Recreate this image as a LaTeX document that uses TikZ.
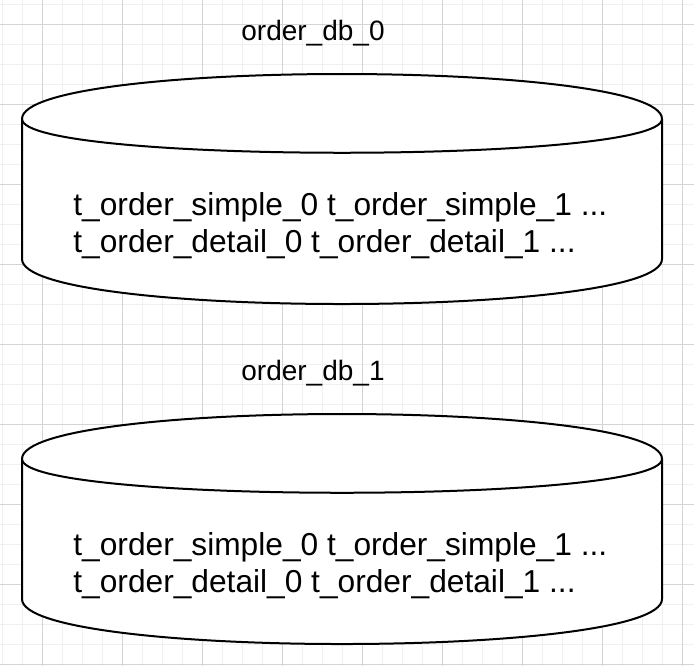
\documentclass[tikz,border=0pt]{standalone}
\usepackage{fontspec}
\setmainfont{Liberation Sans}

\begin{document}
\begin{tikzpicture}[x=0.5pt, y=-0.5pt]

\definecolor{grid-minor}{RGB}{240,240,240}
\definecolor{grid-major}{RGB}{212,212,212}

\tikzset{
  dbline/.style={line width=1pt, line join=round},
  dblabel/.style={anchor=base, inner sep=0pt, font=\fontsize{14}{16.8}\selectfont},
  dbtables/.style={anchor=base west, inner sep=0pt, align=left,
    font=\fontsize{15.85}{18.5}\selectfont}
}

\useasboundingbox (0,0) rectangle (694,666);
\fill[white] (0,0) rectangle (694,666);

% background grid
\foreach \x in {2,22,...,682} {
  \draw[grid-minor, line width=0.5pt] (\x, 0) -- (\x, 666);
}
\foreach \y in {4,24,...,664} {
  \draw[grid-minor, line width=0.5pt] (0, \y) -- (694, \y);
}
\foreach \x in {42,122,...,682} {
  \draw[grid-major, line width=0.5pt] (\x, 0) -- (\x, 666);
}
\foreach \y in {24,104,...,664} {
  \draw[grid-major, line width=0.5pt] (0, \y) -- (694, \y);
}

\foreach \i in {0,1} {
  \begin{scope}[yshift=-170pt*\i]
    \draw[dbline, fill=white] (22, 119) .. controls (22, 59) and (662, 59) .. (662, 119)
      -- (662, 259) .. controls (662, 319) and (22, 319) .. (22, 259) -- cycle;
    \draw[dbline] (22, 119) .. controls (22, 164) and (662, 164) .. (662, 119);
    \node[dblabel] (dbname-\i) at (313, 40) {order\_db\_\i};
    % base of the last line
    \node[dbtables] (tables-\i) at (73, 252)
      {t\_order\_simple\_0 t\_order\_simple\_1 ...\\t\_order\_detail\_0 t\_order\_detail\_1 ...};
  \end{scope}
}

\end{tikzpicture}
\end{document}
